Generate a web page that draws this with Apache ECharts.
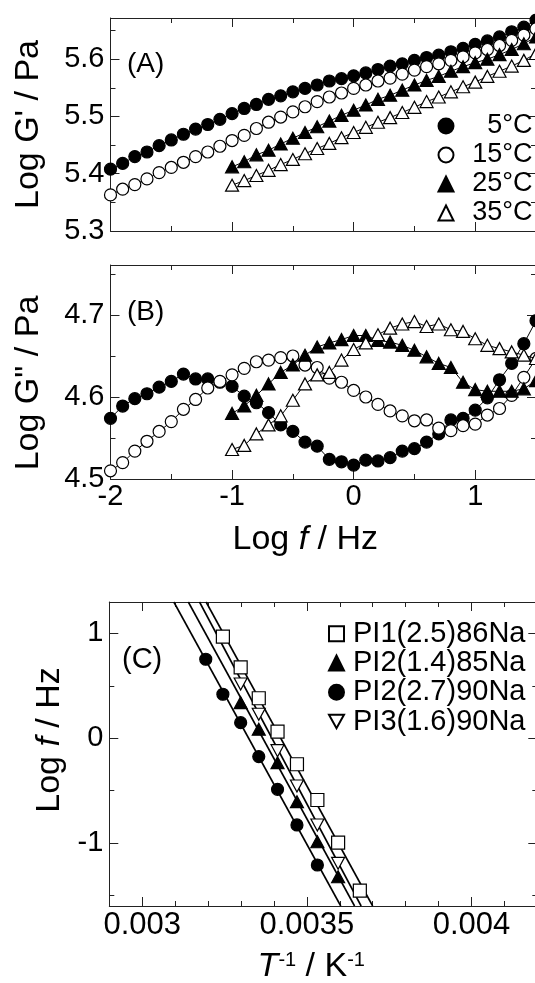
<!DOCTYPE html>
<html><head><meta charset="utf-8">
<script src="https://cdn.jsdelivr.net/npm/echarts@6/dist/echarts.min.js"></script>
<style>html,body{margin:0;padding:0;background:#fff}#c{width:535px;height:983px}</style>
</head><body><div id="c"></div>
<script>
// ---------- data ----------
const logF36 = [-2.0,-1.9,-1.8,-1.7,-1.6,-1.5,-1.4,-1.3,-1.2,-1.1,-1.0,-0.9,-0.8,-0.7,-0.6,-0.5,-0.4,-0.3,-0.2,-0.1,0.0,0.1,0.2,0.3,0.4,0.5,0.6,0.7,0.8,0.9,1.0,1.1,1.2,1.3,1.4,1.5];
const logF26 = [-1.0,-0.9,-0.8,-0.7,-0.6,-0.5,-0.4,-0.3,-0.2,-0.1,0.0,0.1,0.2,0.3,0.4,0.5,0.6,0.7,0.8,0.9,1.0,1.1,1.2,1.3,1.4,1.5];

const gp5  = [5.408,5.418,5.430,5.438,5.449,5.459,5.469,5.478,5.486,5.495,5.505,5.514,5.521,5.530,5.536,5.543,5.549,5.555,5.562,5.566,5.571,5.576,5.582,5.588,5.592,5.598,5.603,5.607,5.613,5.619,5.626,5.632,5.639,5.648,5.656,5.668];
const gp15 = [5.363,5.373,5.381,5.391,5.402,5.411,5.420,5.430,5.438,5.448,5.458,5.467,5.479,5.490,5.499,5.508,5.517,5.526,5.534,5.541,5.549,5.555,5.562,5.567,5.574,5.581,5.587,5.592,5.598,5.604,5.611,5.617,5.624,5.633,5.642,5.653];
const gp25 = [5.412,5.421,5.433,5.441,5.452,5.462,5.472,5.482,5.492,5.502,5.511,5.520,5.530,5.537,5.546,5.555,5.563,5.570,5.579,5.587,5.594,5.600,5.608,5.617,5.627,5.639];
const gp35 = [5.380,5.388,5.397,5.406,5.416,5.425,5.435,5.444,5.453,5.463,5.472,5.481,5.490,5.498,5.507,5.516,5.526,5.534,5.543,5.552,5.560,5.570,5.579,5.588,5.598,5.610];

const gpp5  = [4.574,4.589,4.598,4.604,4.612,4.619,4.628,4.622,4.622,4.618,4.613,4.601,4.593,4.581,4.566,4.558,4.545,4.540,4.524,4.521,4.517,4.523,4.522,4.526,4.534,4.537,4.545,4.555,4.572,4.574,4.584,4.599,4.621,4.641,4.665,4.693];
const gpp15 = [4.510,4.520,4.534,4.546,4.558,4.570,4.585,4.597,4.611,4.619,4.627,4.635,4.643,4.645,4.648,4.650,4.639,4.636,4.623,4.618,4.608,4.600,4.591,4.583,4.577,4.571,4.572,4.562,4.559,4.565,4.567,4.578,4.586,4.602,4.624,4.647];
const gpp25 = [4.580,4.589,4.602,4.616,4.630,4.639,4.651,4.661,4.666,4.670,4.675,4.675,4.669,4.667,4.663,4.657,4.649,4.641,4.636,4.618,4.609,4.607,4.607,4.607,4.610,4.620];
const gpp35 = [4.536,4.541,4.555,4.566,4.577,4.596,4.616,4.627,4.630,4.645,4.658,4.666,4.676,4.684,4.689,4.692,4.686,4.689,4.682,4.680,4.671,4.663,4.659,4.655,4.651,4.647];

const tempNames = ['5°C','15°C','25°C','35°C'];

// Panel C: inverse temperature (1/K) and log f (Hz)
const invT_PI1_86 = [0.003245,0.003299,0.003354,0.003411,0.003470,0.003532,0.003595,0.003661];
const logf_PI1_86 = [0.970,0.677,0.382,0.063,-0.248,-0.589,-0.996,-1.454];
const invT_PI2_85 = [0.003299,0.003354,0.003411,0.003470,0.003532,0.003595];
const logf_PI2_85 = [0.340,0.086,-0.233,-0.605,-0.987,-1.321];
const invT_PI2_90 = [0.003193,0.003245,0.003299,0.003354,0.003411,0.003470,0.003532];
const logf_PI2_90 = [0.754,0.420,0.149,-0.175,-0.487,-0.827,-1.209];
const invT_PI3_90 = [0.003299,0.003354,0.003411,0.003470,0.003532,0.003595];
const logf_PI3_90 = [0.518,0.229,-0.118,-0.455,-0.827,-1.193];
// fitted straight lines (endpoints at the plot's y limits)
const fit_PI2_90 = [[0.003096,1.3],[0.003603,-1.6]];
const fit_PI2_85 = [[0.003140,1.3],[0.003645,-1.6]];
const fit_PI3_90 = [[0.003174,1.3],[0.003665,-1.6]];
const fit_PI1_86 = [[0.003194,1.3],[0.003700,-1.6]];
const namesC = ['PI1(2.5)86Na','PI2(1.4)85Na','PI2(2.7)90Na','PI3(1.6)90Na'];

// tick values
const xMajAB = [-2,-1,0,1], xMinAB = [-1.5,-0.5,0.5,1.5];
const yMajA = [5.3,5.4,5.5,5.6], yMinA = [5.35,5.45,5.55,5.65];
const yMajB = [4.5,4.6,4.7], yMinB = [4.55,4.65,4.75];
const xMajC = [0.003,0.0035,0.004], xMinC = [0.0029,0.0031,0.0032,0.0033,0.0034,0.0036,0.0037,0.0038,0.0039,0.0041,0.0042];
const yMajC = [-1,0,1], yMinC = [-1.5,-0.5,0.5];

// ---------- chart ----------
const FONT = '"Liberation Sans", Arial, Helvetica, sans-serif';
const LC = '#222';
function zip(xs, ys){ return xs.map((x,i)=>[x, ys[i]]); }

function axisGroup(grid, pos, opp, min, max, majors, minors, label, nameOpt){
  const base = (position, ticks, len, showLine) => ({
    type:'value', gridIndex:grid, position, min, max,
    axisLine:{show:showLine, onZero:false, lineStyle:{color:LC, width:1}},
    axisTick:{show:true, inside:true, length:len, customValues:ticks, lineStyle:{color:LC, width:1}},
    axisLabel:{show:false},
    splitLine:{show:false}, minorTick:{show:false}, minorSplitLine:{show:false},
    axisPointer:{show:false}, silent:true
  });
  const main = base(pos, majors, 9, true);
  if (label) main.axisLabel = Object.assign({show:true, color:'#000', fontFamily:FONT, fontSize:29}, label);
  if (nameOpt) Object.assign(main, nameOpt);
  return [main, base(pos, minors, 5, false), base(opp, majors, 9, true), base(opp, minors, 5, false)];
}

const nameStyle = (extra) => Object.assign({
  fontFamily:FONT, fontSize:34, color:'#000',
  rich:{
    n:{fontFamily:FONT, fontSize:34, color:'#000', lineHeight:34},
    i:{fontFamily:FONT, fontSize:34, color:'#000', fontStyle:'italic', lineHeight:34},
    s:{fontFamily:FONT, fontSize:20, color:'#000', lineHeight:20, verticalAlign:'top'}
  }
}, extra);

const xAxes = [].concat(
  axisGroup(0,'bottom','top',-2,1.5,xMajAB,xMinAB,null,null),
  axisGroup(1,'bottom','top',-2,1.5,xMajAB,xMinAB,
    {customValues:xMajAB, margin:3, formatter:v=>String(Math.round(v))},
    {name:'{n|Log }{i|f}{n| / Hz}', nameLocation:'middle', nameGap:44, nameTextStyle:nameStyle({padding:[0,36,0,0]})}),
  axisGroup(2,'bottom','top',0.0029,0.0042,xMajC,xMinC,
    {customValues:xMajC, margin:4, fontSize:31, formatter:v=>String(+v.toFixed(4))},
    {name:'{i|T}{s|-1}{n| / K}{s|-1}', nameLocation:'middle', nameGap:44, nameTextStyle:nameStyle({padding:[0,24,0,0]})})
);
const yAxes = [].concat(
  axisGroup(0,'left','right',5.3,5.672,yMajA,yMinA,
    {customValues:yMajA, margin:6, formatter:v=>v.toFixed(1)},
    {name:"Log G' / Pa", nameLocation:'middle', nameGap:65, nameTextStyle:nameStyle({})}),
  axisGroup(1,'left','right',4.5,4.761,yMajB,yMinB,
    {customValues:yMajB, margin:6, formatter:v=>v.toFixed(1)},
    {name:'Log G" / Pa', nameLocation:'middle', nameGap:65, nameTextStyle:nameStyle({padding:[0,22,0,0]})}),
  axisGroup(2,'left','right',-1.6,1.3,yMajC,yMinC,
    {customValues:yMajC, margin:6, formatter:v=>String(Math.round(v))},
    {name:'{n|Log }{i|f}{n| / Hz}', nameLocation:'middle', nameGap:31, nameTextStyle:nameStyle({padding:[0,0,0,28]})})
);

const symA = [
  {symbol:'circle', size:12, fill:'#000'},
  {symbol:'circle', size:12, fill:'#fff'},
  {symbol:'triangle', size:[13,12], fill:'#000'},
  {symbol:'triangle', size:[13,12], fill:'#fff'}
];
function tempSeries(grid, xs, ys, k){
  const s = symA[k];
  return {
    type:'line', name:tempNames[k], xAxisIndex:grid*4, yAxisIndex:grid*4,
    data:zip(xs, ys), symbol:s.symbol, symbolSize:s.size, showSymbol:true,
    lineStyle:{color:'#000', width:1},
    itemStyle:{color:s.fill, borderColor:'#000', borderWidth:1.2},
    emphasis:{disabled:true}, silent:true, animation:false, z:2+k
  };
}
const series = [
  tempSeries(0, logF36, gp5, 0), tempSeries(0, logF36, gp15, 1),
  tempSeries(0, logF26, gp25, 2), tempSeries(0, logF26, gp35, 3),
  tempSeries(1, logF36, gpp5, 0), tempSeries(1, logF36, gpp15, 1),
  tempSeries(1, logF26, gpp25, 2), tempSeries(1, logF26, gpp35, 3)
];
[fit_PI2_90, fit_PI2_85, fit_PI3_90, fit_PI1_86].forEach(d => series.push({
  type:'line', xAxisIndex:8, yAxisIndex:8, data:d, symbol:'none', showSymbol:false,
  lineStyle:{color:'#000', width:1.6}, emphasis:{disabled:true}, silent:true, animation:false, z:1
}));
const symC = [
  {symbol:'rect', size:13, fill:'#fff', rot:0, xs:invT_PI1_86, ys:logf_PI1_86},
  {symbol:'triangle', size:[13,12], fill:'#000', rot:0, xs:invT_PI2_85, ys:logf_PI2_85},
  {symbol:'circle', size:12, fill:'#000', rot:0, xs:invT_PI2_90, ys:logf_PI2_90},
  {symbol:'triangle', size:[13,12], fill:'#fff', rot:180, xs:invT_PI3_90, ys:logf_PI3_90}
];
symC.forEach((s,k) => series.push({
  type:'scatter', name:namesC[k], xAxisIndex:8, yAxisIndex:8, data:zip(s.xs, s.ys),
  symbol:s.symbol, symbolSize:s.size, symbolRotate:s.rot,
  itemStyle:{color:s.fill, borderColor:'#000', borderWidth:1.2, opacity:1},
  emphasis:{disabled:true}, silent:true, animation:false, z:3
}));

const option = {
  animation:false,
  textStyle:{fontFamily:FONT},
  grid:[
    {left:110.5, top:18, width:425.5, height:213, outerBoundsMode:'none', containLabel:false},
    {left:110.5, top:265, width:425.5, height:214, outerBoundsMode:'none', containLabel:false},
    {left:109.3, top:602, width:428, height:304, outerBoundsMode:'none', containLabel:false}
  ],
  xAxis:xAxes, yAxis:yAxes,
  legend:[
    {orient:'vertical', left:437.5, top:111.5, padding:0, itemWidth:15, itemHeight:15, itemGap:0, selectedMode:false,
     data:[{name:'5°C',icon:'circle'},{name:'15°C',icon:'circle'},{name:'25°C',icon:'triangle'},{name:'35°C',icon:'triangle'}],
     formatter:n=>'{r|'+n+'}',
     textStyle:{fontFamily:FONT, fontSize:27, color:'#000', lineHeight:29,
       rich:{r:{width:74, align:'right', fontFamily:FONT, fontSize:27, color:'#000', lineHeight:29}}}},
    {orient:'vertical', left:328, top:619, padding:0, itemWidth:15, itemHeight:15, itemGap:0, selectedMode:false,
     data:[{name:namesC[0],icon:'rect'},{name:namesC[1],icon:'triangle'},{name:namesC[2],icon:'circle'},{name:namesC[3],icon:'path://M0,0L10,0L5,9Z'}],
     textStyle:{fontFamily:FONT, fontSize:29, color:'#000', lineHeight:29.3, padding:[0,0,0,4]}}
  ],
  graphic:[
    {type:'text', x:127, y:64, silent:true, style:{text:'(A)', fontFamily:FONT, fontSize:28, fill:'#000', verticalAlign:'middle'}},
    {type:'text', x:127, y:312, silent:true, style:{text:'(B)', fontFamily:FONT, fontSize:28, fill:'#000', verticalAlign:'middle'}},
    {type:'text', x:122, y:660, silent:true, style:{text:'(C)', fontFamily:FONT, fontSize:29, fill:'#000', verticalAlign:'middle'}}
  ],
  series
};
const chart = echarts.init(document.getElementById('c'), null, {renderer:'canvas'});
chart.setOption(option);
</script>
</body></html>
